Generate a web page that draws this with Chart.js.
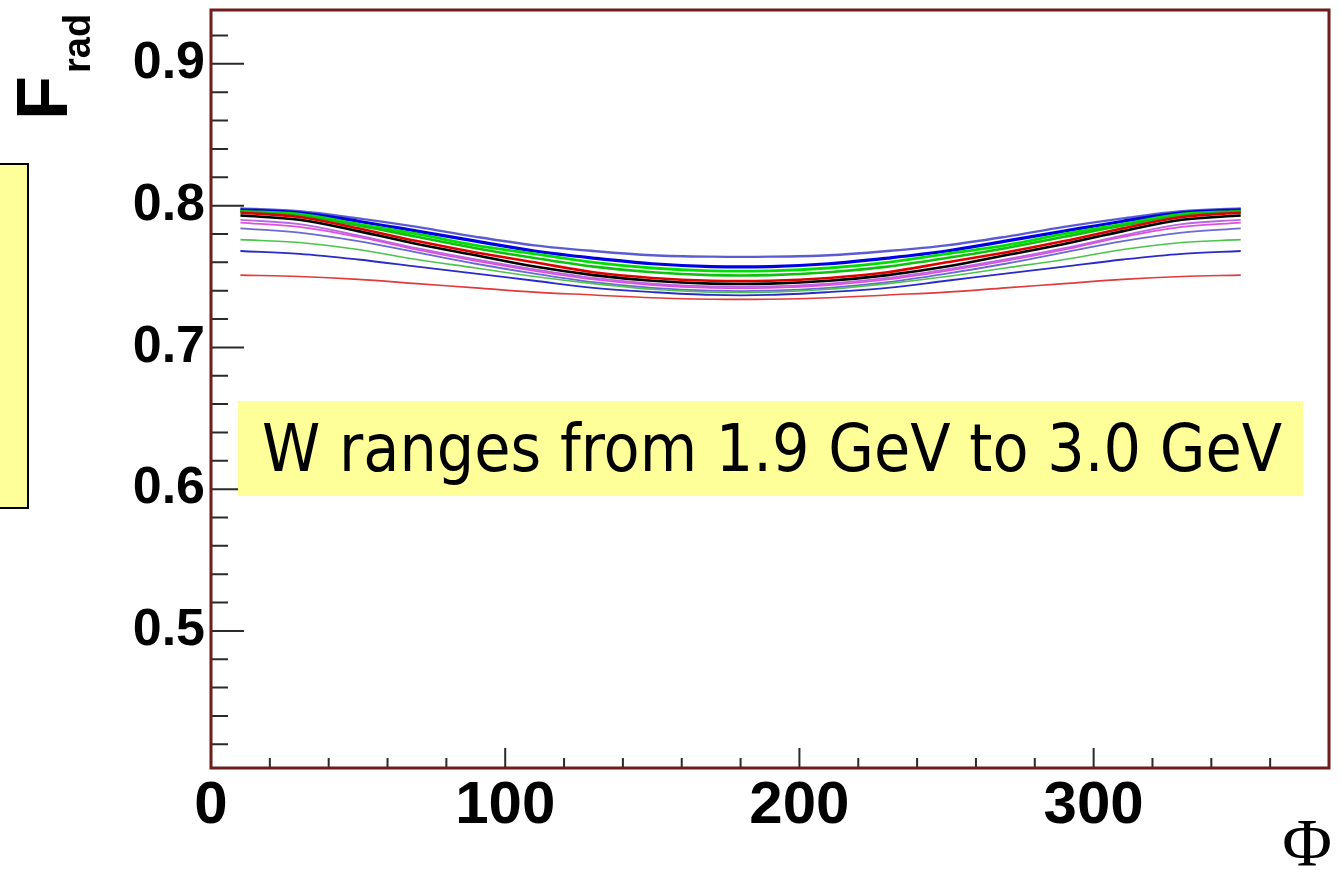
<!DOCTYPE html>
<html>
<head>
<meta charset="utf-8">
<script src="https://cdn.jsdelivr.net/npm/chart.js@4"></script>
<style>
    html, body { margin: 0; padding: 0; background: #ffffff; }
    #wrap { position: relative; width: 1341px; height: 870px; overflow: hidden; }
    #chart { position: absolute; left: 0; top: 0; }
    .side-box {
        position: absolute; left: -100px; top: 163px; width: 125px; height: 342px;
        background: #ffff99; border: 2px solid #000;
    }
    .w-box {
        position: absolute; left: 238px; top: 401px; width: 1065px; height: 95px;
        background: #ffff99; overflow: hidden;
    }
    .w-box span {
        position: absolute; left: 24px; top: 0; line-height: 95px; white-space: nowrap;
        font-family: "DejaVu Sans", sans-serif; font-size: 66px; color: #000;
        transform-origin: left center;
    }
    .y-title {
        position: absolute; left: 6px; top: 120px; transform: rotate(-90deg); transform-origin: left top;
        font-family: "Liberation Sans", Arial, sans-serif; font-weight: bold; font-size: 72px;
        line-height: 1; white-space: nowrap; color: #000;
    }
    .y-title span { font-size: 38px; vertical-align: -23px; margin-left: 3px; }
    .x-title {
        position: absolute; right: 9px; top: 808px;
        font-family: "Liberation Serif", "DejaVu Serif", serif; font-size: 68px; line-height: 1; color: #000;
    }
</style>
</head>
<body>
<div id="wrap">
    <canvas id="chart" width="1341" height="870"></canvas>
    <div class="side-box"></div>
    <div class="w-box"><span id="w-text">W ranges from 1.9 GeV to 3.0 GeV</span></div>
    <div class="y-title">F<span>rad</span></div>
    <div class="x-title">Φ</div>
</div>
<script>
// Angle Φ (degrés) des points
const phi = [10, 30, 50, 70, 90, 110, 130, 150, 170, 190, 210, 230, 250, 270, 290, 310, 330, 350];

// F_rad pour chaque valeur de W (GeV)
const fW19 = [0.751, 0.750, 0.748, 0.745, 0.742, 0.739, 0.737, 0.735, 0.734, 0.734, 0.735, 0.737, 0.739, 0.742, 0.745, 0.748, 0.750, 0.751];
const fW20 = [0.768, 0.766, 0.762, 0.757, 0.752, 0.747, 0.742, 0.739, 0.737, 0.737, 0.739, 0.742, 0.747, 0.752, 0.757, 0.762, 0.766, 0.768];
const fW21 = [0.776, 0.774, 0.769, 0.762, 0.756, 0.750, 0.745, 0.741, 0.739, 0.739, 0.741, 0.745, 0.750, 0.756, 0.762, 0.769, 0.774, 0.776];
const fW22 = [0.784, 0.781, 0.775, 0.767, 0.759, 0.752, 0.746, 0.742, 0.740, 0.740, 0.742, 0.746, 0.752, 0.759, 0.767, 0.775, 0.781, 0.784];
const fW23 = [0.788, 0.785, 0.778, 0.769, 0.761, 0.754, 0.748, 0.744, 0.742, 0.742, 0.744, 0.748, 0.754, 0.761, 0.769, 0.778, 0.785, 0.788];
const fW24 = [0.790, 0.787, 0.779, 0.770, 0.762, 0.755, 0.749, 0.745, 0.743, 0.743, 0.745, 0.749, 0.755, 0.762, 0.770, 0.779, 0.787, 0.790];
const fW25 = [0.793, 0.790, 0.782, 0.773, 0.765, 0.757, 0.751, 0.747, 0.745, 0.745, 0.747, 0.751, 0.757, 0.765, 0.773, 0.782, 0.790, 0.793];
const fW26 = [0.795, 0.792, 0.784, 0.775, 0.767, 0.760, 0.753, 0.749, 0.747, 0.747, 0.749, 0.753, 0.760, 0.767, 0.775, 0.784, 0.792, 0.795];
const fW27 = [0.796, 0.793, 0.786, 0.778, 0.770, 0.763, 0.757, 0.753, 0.751, 0.751, 0.753, 0.757, 0.763, 0.770, 0.778, 0.786, 0.793, 0.796];
const fW28 = [0.796, 0.794, 0.787, 0.780, 0.772, 0.766, 0.760, 0.756, 0.754, 0.754, 0.756, 0.760, 0.766, 0.772, 0.780, 0.787, 0.794, 0.796];
const fW29 = [0.797, 0.795, 0.789, 0.782, 0.775, 0.768, 0.763, 0.759, 0.757, 0.757, 0.759, 0.763, 0.768, 0.775, 0.782, 0.789, 0.795, 0.797];
const fW30 = [0.798, 0.796, 0.791, 0.785, 0.778, 0.772, 0.768, 0.765, 0.764, 0.764, 0.765, 0.768, 0.772, 0.778, 0.785, 0.791, 0.796, 0.798];

const wLabels = ['1.9', '2.0', '2.1', '2.2', '2.3', '2.4', '2.5', '2.6', '2.7', '2.8', '2.9', '3.0'];

// Graduations
const xMajorTicks = [0, 100, 200, 300];
const xMinorTicks = [20, 40, 60, 80, 120, 140, 160, 180, 220, 240, 260, 280, 320, 340, 360];
const yMajorTicks = [0.5, 0.6, 0.7, 0.8, 0.9];
const yMinorTicks = [0.42, 0.44, 0.46, 0.48, 0.52, 0.54, 0.56, 0.58, 0.62, 0.64, 0.66, 0.68,
                     0.72, 0.74, 0.76, 0.78, 0.82, 0.84, 0.86, 0.88, 0.92];

const seriesValues = [fW19, fW20, fW21, fW22, fW23, fW24, fW25, fW26, fW27, fW28, fW29, fW30];
const seriesColors = ['#e23a3a', '#2a2ac8', '#4cc44c', '#6a6ad0', '#e050e0', '#b868e0',
                      '#000000', '#e00000', '#10c010', '#00e000', '#0000e6', '#5c5cd0'];
const seriesWidths = [1.6, 1.8, 1.6, 1.8, 1.8, 1.8, 2.6, 2.6, 2.6, 2.8, 3.2, 2.4];

const datasets = seriesValues.map((vals, i) => ({
    label: 'W = ' + wLabels[i] + ' GeV',
    data: vals.map((v, j) => ({ x: phi[j], y: v })),
    borderColor: seriesColors[i],
    borderWidth: seriesWidths[i],
    pointRadius: 0,
    tension: 0.35,
    fill: false
}));

// Cadre + graduations vers l'intérieur (style ROOT)
const frameTicks = {
    id: 'frameTicks',
    afterDraw(chart) {
        const { ctx, chartArea: a, scales } = chart;
        ctx.save();
        ctx.strokeStyle = '#2a2a2a';
        ctx.lineWidth = 2;
        ctx.beginPath();
        xMajorTicks.forEach(v => {
            const px = scales.x.getPixelForValue(v);
            ctx.moveTo(px, a.bottom); ctx.lineTo(px, a.bottom - 20);
        });
        xMinorTicks.forEach(v => {
            const px = scales.x.getPixelForValue(v);
            ctx.moveTo(px, a.bottom); ctx.lineTo(px, a.bottom - 10);
        });
        yMajorTicks.forEach(v => {
            const py = scales.y.getPixelForValue(v);
            ctx.moveTo(a.left, py); ctx.lineTo(a.left + 33, py);
        });
        yMinorTicks.forEach(v => {
            const py = scales.y.getPixelForValue(v);
            ctx.moveTo(a.left, py); ctx.lineTo(a.left + 17, py);
        });
        ctx.stroke();
        ctx.strokeStyle = '#6e1c1c';
        ctx.lineWidth = 3;
        ctx.strokeRect(a.left, a.top, a.right - a.left, a.bottom - a.top);
        ctx.restore();
    }
};

new Chart(document.getElementById('chart'), {
    type: 'line',
    data: { datasets: datasets },
    plugins: [frameTicks],
    options: {
        responsive: false,
        animation: false,
        events: [],
        layout: { padding: { left: 0, top: 10, right: 12, bottom: 0 } },
        plugins: { legend: { display: false }, tooltip: { enabled: false } },
        scales: {
            x: {
                type: 'linear',
                min: 0,
                max: 380,
                afterFit: scale => {
                    scale.height = 102;
                    scale.paddingLeft = 0;
                    scale.paddingRight = 0;
                },
                afterBuildTicks: scale => { scale.ticks = xMajorTicks.map(v => ({ value: v })); },
                grid: { display: false, drawTicks: false },
                border: { display: false },
                ticks: {
                    padding: 2,
                    maxRotation: 0,
                    color: '#000',
                    font: { family: '"Liberation Sans", Arial, sans-serif', size: 60, weight: 'bold' },
                    callback: v => String(v)
                }
            },
            y: {
                type: 'linear',
                min: 0.4033,
                max: 0.938,
                afterFit: scale => {
                    scale.width = 211;
                    scale.paddingTop = 0;
                    scale.paddingBottom = 0;
                },
                afterBuildTicks: scale => { scale.ticks = yMajorTicks.map(v => ({ value: v })); },
                grid: { display: false, drawTicks: false },
                border: { display: false },
                ticks: {
                    padding: 6,
                    color: '#000',
                    font: { family: '"Liberation Sans", Arial, sans-serif', size: 52, weight: 'bold' },
                    callback: v => v.toFixed(1)
                }
            }
        }
    }
});

// Ajuster la largeur du texte de l'encadré
const wText = document.getElementById('w-text');
const targetWidth = 1020;
wText.style.transform = 'scaleX(' + (targetWidth / wText.getBoundingClientRect().width) + ')';
</script>
</body>
</html>
